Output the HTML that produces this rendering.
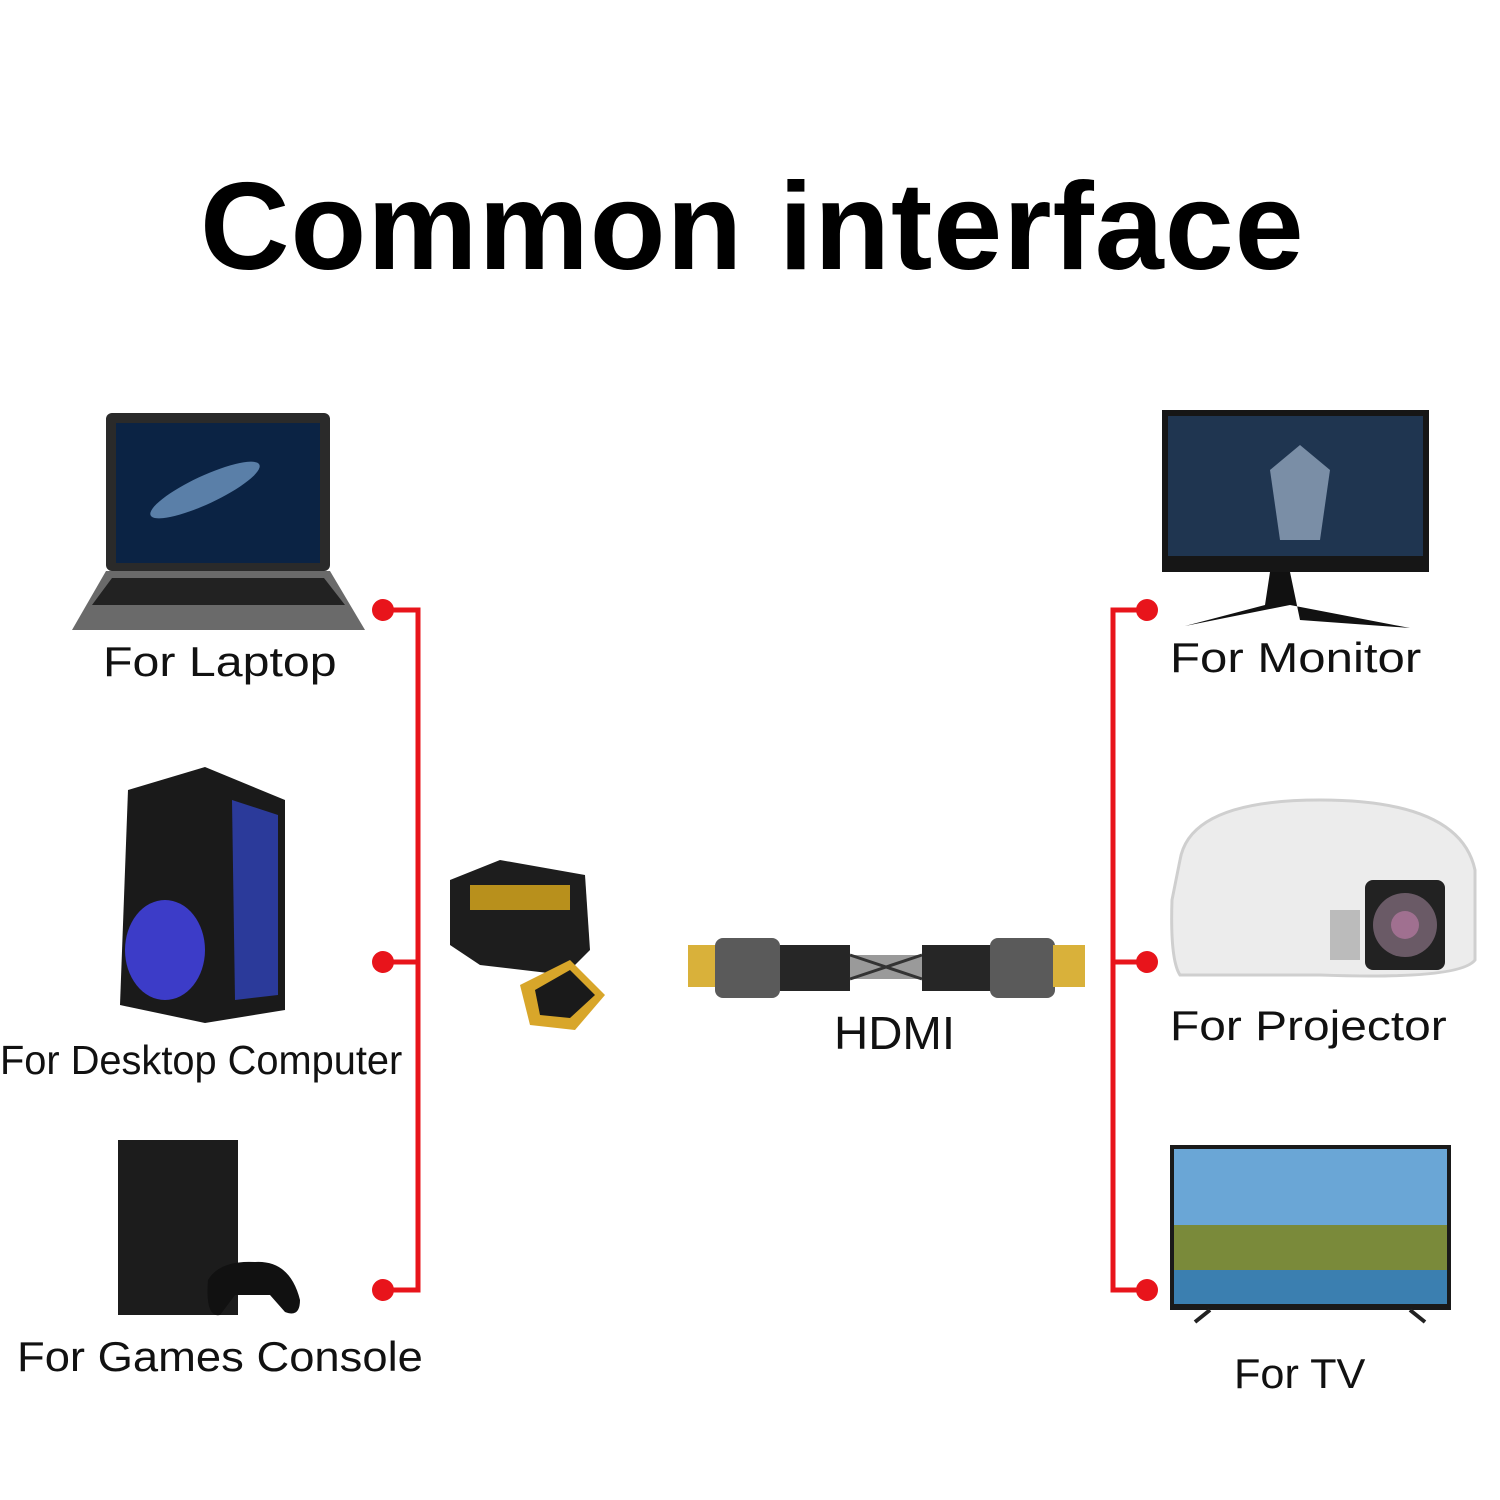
<!DOCTYPE html>
<html><head><meta charset="utf-8"><style>
html,body{margin:0;padding:0;background:#fff}
#c{position:relative;width:1500px;height:1500px;overflow:hidden;font-family:"Liberation Sans",sans-serif}
.t{position:absolute;white-space:nowrap;color:#111;font-size:42px;transform-origin:left}
</style></head><body><div id="c">
<div class="t" style="left:200px;top:156px;font-size:124px;font-weight:bold;color:#000;letter-spacing:1px">Common interface</div>
<svg width="1500" height="1500" style="position:absolute;left:0;top:0">
<g stroke="#e8141b" stroke-width="5" fill="none">
<path d="M383 610H418V1290H383M418 962H383"/>
<path d="M1147 610H1113V1290H1147M1113 962H1147"/>
</g>
<g fill="#e8141b"><circle cx="383" cy="610" r="11"/><circle cx="383" cy="962" r="11"/><circle cx="383" cy="1290" r="11"/>
<circle cx="1147" cy="610" r="11"/><circle cx="1147" cy="962" r="11"/><circle cx="1147" cy="1290" r="11"/></g>
<rect x="106" y="413" width="224" height="158" rx="6" fill="#2a2a2a"/>
<rect x="116" y="423" width="204" height="140" fill="#0b2344"/>
<ellipse cx="205" cy="490" rx="60" ry="14" fill="#5a7fa8" transform="rotate(-25 205 490)"/>
<path d="M106 571H330L365 630H72Z" fill="#6a6a6a"/>
<path d="M112 578H324L345 605H92Z" fill="#222"/>
<path d="M128 790L205 767L285 800V1010L205 1023L120 1005Z" fill="#1a1a1a"/>
<path d="M232 800L278 815V995L235 1000Z" fill="#2b3a9a"/>
<ellipse cx="165" cy="950" rx="40" ry="50" fill="#3c3cc8"/>
<rect x="118" y="1140" width="120" height="175" fill="#1c1c1c"/>
<path d="M208 1280Q220 1260 255 1262Q290 1260 300 1300Q300 1318 285 1312L270 1295H235L220 1315Q205 1318 208 1280Z" fill="#111"/>
<path d="M450 880L500 860L585 875L590 950L565 975L480 965L450 945Z" fill="#1d1d1d"/>
<rect x="470" y="885" width="100" height="25" fill="#b8901c"/>
<path d="M520 985L570 960L605 995L575 1030L530 1025Z" fill="#d8a62a"/>
<path d="M535 990L570 970L595 995L570 1018L540 1015Z" fill="#1a1a1a"/>
<rect x="688" y="945" width="30" height="42" fill="#d9b13a"/>
<rect x="715" y="938" width="65" height="60" rx="8" fill="#5a5a5a"/>
<rect x="780" y="945" width="70" height="46" fill="#262626"/>
<rect x="850" y="955" width="72" height="24" fill="#9a9a9a"/>
<path d="M850 955L922 979M850 979L922 955" stroke="#333" stroke-width="3"/>
<rect x="922" y="945" width="70" height="46" fill="#262626"/>
<rect x="990" y="938" width="65" height="60" rx="8" fill="#5a5a5a"/>
<rect x="1053" y="945" width="32" height="42" fill="#d9b13a"/>
<rect x="1162" y="410" width="267" height="162" fill="#161616"/>
<rect x="1168" y="416" width="255" height="140" fill="#1f3550"/>
<path d="M1270 470L1300 445L1330 470L1320 540H1280Z" fill="#7a8ea6"/>
<path d="M1270 572L1290 572L1300 620L1410 628L1290 605L1185 626L1265 605Z" fill="#111"/>
<path d="M1180 860Q1190 800 1320 800Q1460 800 1475 870V960Q1460 980 1320 975H1180Q1170 960 1172 900Z" fill="#ececec" stroke="#cfcfcf" stroke-width="3"/>
<rect x="1365" y="880" width="80" height="90" rx="8" fill="#222"/>
<circle cx="1405" cy="925" r="32" fill="#6a5a66"/>
<circle cx="1405" cy="925" r="14" fill="#a07090"/>
<rect x="1330" y="910" width="30" height="50" fill="#bbb"/>
<rect x="1170" y="1145" width="281" height="165" fill="#1a1a1a"/>
<rect x="1174" y="1149" width="273" height="155" fill="#6aa6d6"/>
<rect x="1174" y="1225" width="273" height="79" fill="#7a8a3a"/>
<rect x="1174" y="1270" width="273" height="34" fill="#3b7fb0"/>
<path d="M1210 1310L1195 1322M1410 1310L1425 1322" stroke="#222" stroke-width="4"/>
</svg>
<div class="t" style="left:103px;top:638px;transform:scaleX(1.15)">For Laptop</div>
<div class="t" style="left:0px;top:1037px;font-size:41px;transform:scaleX(0.97)">For Desktop Computer</div>
<div class="t" style="left:17px;top:1333px;transform:scaleX(1.08)">For Games Console</div>
<div class="t" style="left:834px;top:1006px;font-size:46px;transform:scaleX(1.03)">HDMI</div>
<div class="t" style="left:1170px;top:634px;transform:scaleX(1.17)">For Monitor</div>
<div class="t" style="left:1170px;top:1002px;transform:scaleX(1.14)">For Projector</div>
<div class="t" style="left:1234px;top:1350px;transform:scaleX(1.03)">For TV</div>
</div></body></html>
